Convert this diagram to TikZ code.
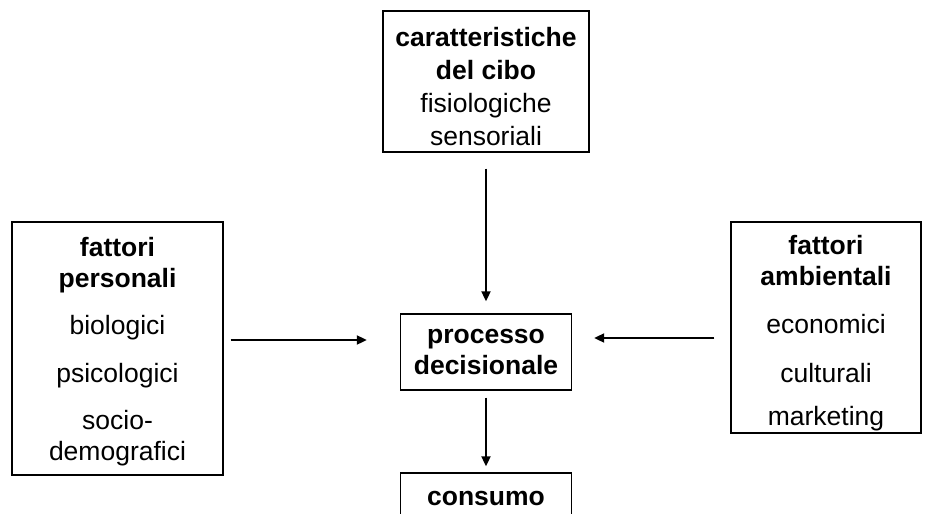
\documentclass[tikz,border=0pt]{standalone}
\usepackage{fontspec}
\setmainfont{Liberation Sans}
\usetikzlibrary{arrows.meta}

\begin{document}
\begin{tikzpicture}[x=1pt, y=-1pt,
    box/.style={draw, line width=1.3pt, align=center, inner sep=0pt, font=\fontsize{26.5}{31}\selectfont},
    flow/.style={-{Triangle[length=10pt, width=9pt]}, line width=1.8pt}]
    \useasboundingbox (0,0) rectangle (929,514);

    % Food characteristics (top)
    \node[box, minimum width=206pt, minimum height=141pt, font=\fontsize{26.5}{33}\selectfont] (cibo) at (486,81.5)
        {\mbox{}\\[-4pt]\textbf{caratteristiche}\\\textbf{del cibo}\\fisiologiche\\sensoriali};

    % Personal factors (left)
    \node[box, minimum width=211pt, minimum height=253pt] (personali) at (117.5,348.5)
        {\textbf{fattori}\\\textbf{personali}\\[16pt]biologici\\[17pt]psicologici\\[16pt]socio-\\\smash{demografici}};

    % Environmental factors (right)
    \node[box, minimum width=190pt, minimum height=211pt] (ambientali) at (826,327.5)
        {\mbox{}\\[0pt]\textbf{fattori}\\\textbf{ambientali}\\[17pt]economici\\[18pt]culturali\\[12pt]marketing};

    % Decision process (centre)
    \node[box, minimum width=171pt, minimum height=76pt] (decisione) at (486,352)
        {\textbf{processo}\\\textbf{decisionale}};

    % Consumption (bottom, cut by the page)
    \node[box, minimum width=171pt, minimum height=50pt] (consumo) at (486,498)
        {\textbf{consumo}};

    % Influences on the decision
    \draw[flow, shorten <=16pt, shorten >=12pt] (cibo) -- (decisione);
    \draw[flow, shorten <=7pt, shorten >=33pt] ([yshift=12pt]personali.east |- decisione.west) -- ([yshift=12pt]decisione.west);
    \draw[flow, shorten <=16pt, shorten >=22pt] ([yshift=14pt]ambientali.west |- decisione.east) -- ([yshift=14pt]decisione.east);

    % Outcome
    \draw[flow, shorten <=7pt, shorten >=6pt] (decisione) -- (consumo);
\end{tikzpicture}
\end{document}
